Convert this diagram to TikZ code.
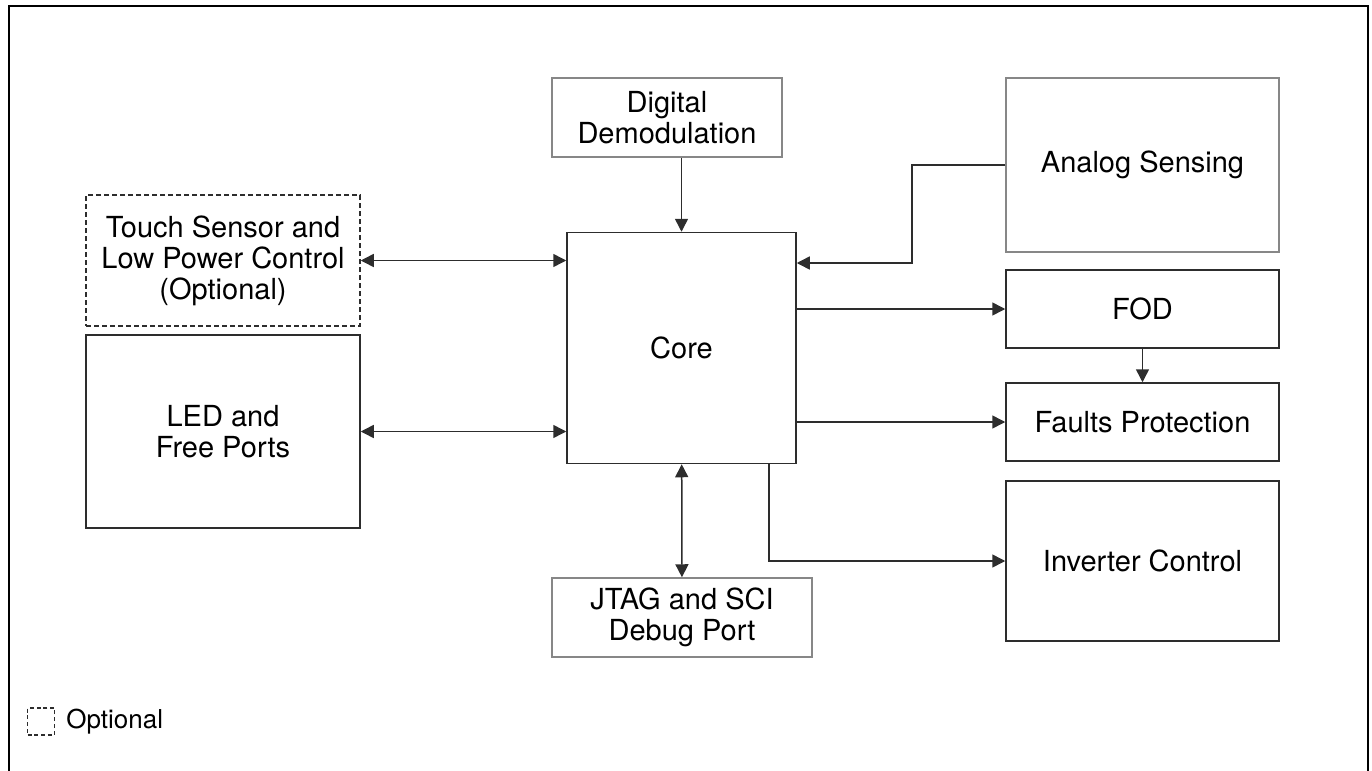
\documentclass[tikz,border=0pt]{standalone}
\usepackage{fontspec}
\setmainfont{TeX Gyre Heros}
\usetikzlibrary{arrows.meta}
\definecolor{boxgray}{RGB}{135,135,135}
\definecolor{boxdark}{RGB}{45,45,45}
\begin{document}
\begin{tikzpicture}[x=0.5pt,y=-0.5pt,
				every node/.style={align=center,inner sep=0pt,font=\fontsize{14.5}{15.5}\selectfont},
				block/.style={draw=boxdark,line width=0.75pt},
				lightblock/.style={draw=boxgray,line width=0.75pt},
				optblock/.style={draw=boxdark,line width=0.75pt,dash pattern=on 2.5pt off 1.5pt},
				link/.style={line width=0.75pt,draw=boxdark,-{Triangle[length=6.5pt,width=6.5pt]}},
				dlink/.style={link,{Triangle[length=6.5pt,width=6.5pt]}-{Triangle[length=6.5pt,width=6.5pt]}}]
\useasboundingbox (0,0) rectangle (1372,771);
\draw[line width=1.4pt] (9,800) -- (9,6) -- (1368,6) -- (1368,800);
\node[lightblock,minimum width=115pt,minimum height=39.5pt] (demod) at (667,117.5) {Digital\\Demodulation};
\node[block,minimum width=114.5pt,minimum height=115.5pt] (core) at (681.5,348) {Core};
\node[lightblock,minimum width=136.5pt,minimum height=87pt] (analog) at (1142.5,165) {Analog Sensing};
\node[block,minimum width=136.5pt,minimum height=39pt] (fod) at (1142.5,309) {FOD};
\node[block,minimum width=136.5pt,minimum height=39pt] (faults) at (1142.5,422) {Faults Protection};
\node[block,minimum width=136.5pt,minimum height=80pt] (inverter) at (1142.5,561) {Inverter Control};
\node[lightblock,minimum width=130pt,minimum height=39.5pt] (jtag) at (682,617.5) {JTAG and SCI\\Debug Port};
\node[optblock,minimum width=137pt,minimum height=65.5pt] (touch) at (223,260.5) {Touch Sensor and\\Low Power Control\\(Optional)};
\node[block,minimum width=137pt,minimum height=96.5pt] (led) at (223,431.5) {LED and\\Free Ports};
\node[draw=boxdark,line width=0.75pt,dash pattern=on 2pt off 1.4pt,minimum size=13.5pt] (legbox) at (41,721.5) {};
\node[anchor=west,font=\fontsize{13}{14}\selectfont] (legtext) at (66,721.5) {Optional};
\coordinate (abend) at (912,263);
\coordinate (ibend) at (769,561);
\draw[link] (demod.south -| core) -- (core);
\draw[link] (analog.west) -| (abend) -- (abend -| core.east);
\draw[link] (core.east |- fod) -- (fod.west);
\draw[link] (core.east |- faults) -- (faults.west);
\draw[link] (fod) -- (faults);
\draw[link] (core.south -| ibend) -- (ibend) -- (inverter.west);
\draw[dlink] (core) -- (jtag);
\draw[dlink] (touch.east) -- (touch.east -| core.west);
\draw[dlink] (led.east) -- (led.east -| core.west);
\end{tikzpicture}
\end{document}
